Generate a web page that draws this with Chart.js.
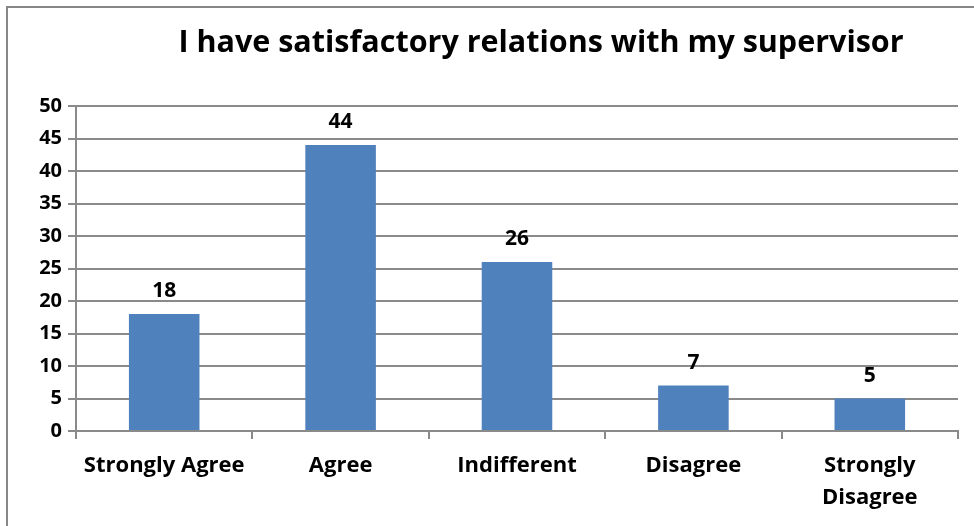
<!DOCTYPE html>
<html>
<head>
<meta charset="utf-8">
<script src="https://cdn.jsdelivr.net/npm/chart.js@4.4.0/dist/chart.umd.min.js"></script>
<style>
html,body{margin:0;padding:0;background:#fff;}
#wrap{width:974px;height:526px;position:relative;}
</style>
</head>
<body>
<div id="wrap"><canvas id="c" width="974" height="526"></canvas></div>
<script>
const chartTitle = "I have satisfactory relations with my supervisor";
const categories = ["Strongly Agree", "Agree", "Indifferent", "Disagree", ["Strongly", "Disagree"]];
const values = [18, 44, 26, 7, 5];
const yTicks = [0, 5, 10, 15, 20, 25, 30, 35, 40, 45, 50];

const FONT = "'Open Sans', sans-serif";
const GRID = "#8a8a8a";

const framePlugin = {
  id: "frame",
  beforeDraw(chart) {
    const ctx = chart.ctx;
    ctx.save();
    ctx.fillStyle = "#fff";
    ctx.fillRect(0, 0, chart.width, chart.height);
    ctx.strokeStyle = "#878787";
    ctx.lineWidth = 2;
    ctx.beginPath();
    ctx.moveTo(7, chart.height);
    ctx.lineTo(7, 7);
    ctx.lineTo(chart.width, 7);
    ctx.stroke();
    ctx.restore();
  },
  afterDraw(chart) {
    const ctx = chart.ctx;
    ctx.save();
    ctx.fillStyle = "#000";
    ctx.font = "bold 30.5px " + FONT;
    ctx.textAlign = "center";
    ctx.textBaseline = "alphabetic";
    ctx.fillText(chartTitle, 541, 52);
    ctx.restore();
  }
};

const valueLabels = {
  id: "valueLabels",
  afterDatasetsDraw(chart) {
    const ctx = chart.ctx;
    ctx.save();
    ctx.fillStyle = "#000";
    ctx.font = "bold 21px " + FONT;
    ctx.textAlign = "center";
    ctx.textBaseline = "alphabetic";
    chart.getDatasetMeta(0).data.forEach((bar, i) => {
      ctx.fillText(String(values[i]), bar.x, bar.y - 17);
    });
    ctx.restore();
  }
};

new Chart(document.getElementById("c"), {
  type: "bar",
  data: {
    labels: categories,
    datasets: [{
      data: values,
      backgroundColor: "#4f81bd",
      borderWidth: 0,
      barPercentage: 0.4,
      categoryPercentage: 1.0
    }]
  },
  options: {
    responsive: false,
    animation: false,
    layout: { padding: { left: 0, right: 16, top: 106, bottom: 0 } },
    plugins: { legend: { display: false }, title: { display: false }, tooltip: { enabled: false } },
    scales: {
      x: {
        grid: { display: true, drawOnChartArea: false, drawTicks: true, tickLength: 8, offset: true, color: GRID, lineWidth: 2 },
        border: { display: true, color: GRID, width: 2 },
        ticks: { color: "#000", font: { family: FONT, size: 22, weight: "bold", lineHeight: 1.45 }, padding: 11, maxRotation: 0, autoSkip: false },
        afterFit(scale) { scale.height = 95; }
      },
      y: {
        min: 0, max: 50,
        afterBuildTicks(scale) { scale.ticks = yTicks.map(v => ({ value: v })); },
        grid: { color: GRID, lineWidth: 2, tickLength: 8, drawTicks: true },
        border: { display: true, color: GRID, width: 2 },
        ticks: { color: "#000", font: { family: FONT, size: 20, weight: "bold" }, padding: 6 },
        afterFit(scale) { scale.width = 76; }
      }
    }
  },
  plugins: [framePlugin, valueLabels]
});
</script>
</body>
</html>
